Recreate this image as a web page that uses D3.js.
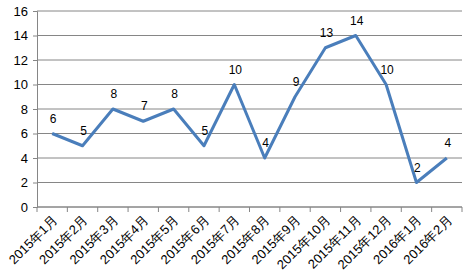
<!DOCTYPE html>
<html>
<head>
<meta charset="utf-8">
<script src="https://cdn.jsdelivr.net/npm/d3@7"></script>
<style>
  body { margin: 0; background: #fff; }
  text { font-family: "Liberation Sans", Arial, sans-serif; fill: #000; }
</style>
</head>
<body>
<svg width="475" height="278"></svg>
<script>
const months = ['2015年1月', '2015年2月', '2015年3月', '2015年4月', '2015年5月', '2015年6月', '2015年7月',
  '2015年8月', '2015年9月', '2015年10月', '2015年11月', '2015年12月', '2016年1月', '2016年2月'];
const counts = [6, 5, 8, 7, 8, 5, 10, 4, 9, 13, 14, 10, 2, 4];
const yTicks = [0, 2, 4, 6, 8, 10, 12, 14, 16];

const svg = d3.select('svg');
const margin = { top: 11, right: 13, bottom: 71, left: 37 };
const width = +svg.attr('width') - margin.left - margin.right;
const height = +svg.attr('height') - margin.top - margin.bottom;

const x = d3.scaleBand().domain(months).range([0, width]);
const y = d3.scaleLinear().domain([0, 16]).range([height, 0]);

const g = svg.append('g').attr('transform', `translate(${margin.left},${margin.top})`);

// gridlines
g.append('g')
  .selectAll('line')
  .data(yTicks)
  .join('line')
  .attr('x1', 0)
  .attr('x2', width)
  .attr('y1', d => y(d))
  .attr('y2', d => y(d))
  .attr('stroke', '#868686')
  .attr('stroke-width', 1);

const yAxis = g.append('g')
  .call(d3.axisLeft(y).tickValues(yTicks).tickSize(4).tickPadding(5));
yAxis.select('.domain').attr('stroke', '#868686');
yAxis.selectAll('.tick line').attr('stroke', '#868686');
yAxis.selectAll('text').style('font-size', '13px');

// x axis: ticks sit on band boundaries
const xAxis = g.append('g').attr('transform', `translate(0,${height})`);
xAxis.append('line')
  .attr('x1', 0).attr('x2', width)
  .attr('stroke', '#868686');
xAxis.selectAll('.bt')
  .data(d3.range(months.length + 1))
  .join('line')
  .attr('class', 'bt')
  .attr('x1', i => i * x.step())
  .attr('x2', i => i * x.step())
  .attr('y1', 0).attr('y2', 5)
  .attr('stroke', '#868686');
xAxis.selectAll('text')
  .data(months)
  .join('text')
  .attr('transform', d => `translate(${x(d) + x.bandwidth() / 2 + 6},${14}) rotate(-45)`)
  .attr('text-anchor', 'end')
  .style('font-size', '13px')
  .text(d => d);

const line = d3.line()
  .x((d, i) => x(months[i]) + x.bandwidth() / 2)
  .y(d => y(d));

g.append('path')
  .datum(counts)
  .attr('fill', 'none')
  .attr('stroke', '#4A7EBB')
  .attr('stroke-width', 3)
  .attr('stroke-linejoin', 'round')
  .attr('d', line);

g.selectAll('.lbl')
  .data(counts)
  .join('text')
  .attr('class', 'lbl')
  .attr('x', (d, i) => x(months[i]) + x.bandwidth() / 2 + 1)
  .attr('y', d => y(d) - 11)
  .attr('text-anchor', 'middle')
  .style('font-size', '12px')
  .text(d => d);
</script>
</body>
</html>
